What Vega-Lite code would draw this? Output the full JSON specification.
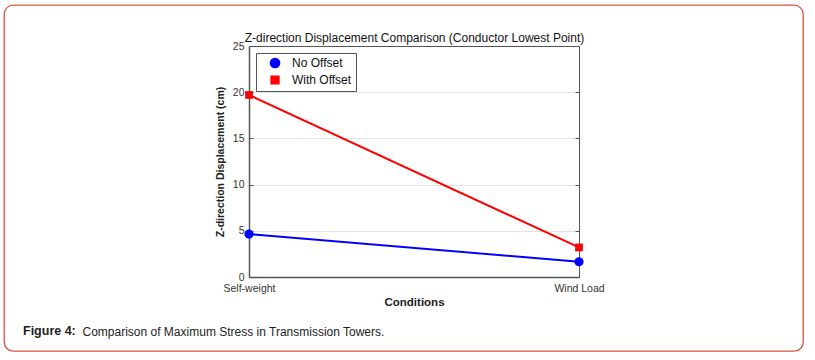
{
  "$schema": "https://vega.github.io/schema/vega-lite/v6.json",
  "width": 799,
  "height": 346,
  "autosize": {"type": "none"},
  "padding": {"left": 4, "top": 5, "right": 12, "bottom": 9},
  "background": "white",
  "title": {
    "text": "Figure 4:",
    "orient": "bottom",
    "anchor": "start",
    "frame": "group",
    "offset": -26,
    "dx": 19,
    "baseline": "top",
    "fontSize": 12.5,
    "fontWeight": "bold",
    "color": "#222222",
    "font": "Liberation Sans"
  },
  "config": {
    "view": {"stroke": "#e0503f", "strokeWidth": 1.3, "cornerRadius": 9, "fill": "white"},
    "font": "Liberation Sans",
    "axis": {"labelFont": "Liberation Sans", "titleFont": "Liberation Sans", "grid": false, "zindex": 0},
    "legend": {
      "orient": "none",
      "legendX": 252,
      "legendY": 48,
      "padding": 4,
      "strokeColor": "#555555",
      "fillColor": "white",
      "labelFont": "Liberation Sans",
      "labelFontSize": 12,
      "labelColor": "#111111",
      "labelOffset": 11,
      "symbolOffset": 9,
      "rowPadding": 2,
      "symbolSize": 75
    }
  },
  "data": {
    "values": [
      {"condition": "Self-weight", "series": "No Offset", "value": 4.65},
      {"condition": "Wind Load", "series": "No Offset", "value": 1.65},
      {"condition": "Self-weight", "series": "With Offset", "value": 19.7},
      {"condition": "Wind Load", "series": "With Offset", "value": 3.2}
    ]
  },
  "layer": [
    {
      "mark": {"type": "line", "strokeWidth": 2},
      "encoding": {
        "x": {
          "field": "condition", "type": "nominal",
          "scale": {"type": "point", "domain": ["Self-weight", "Wind Load"], "range": [245, 575], "padding": 0},
          "axis": {
            "orient": "bottom", "offset": -74, "title": "Conditions",
            "labelAngle": 0, "ticks": false, "domainColor": "#555555", "domainWidth": 1.5,
            "labelFontSize": 10.5, "labelColor": "#333333", "labelPadding": 6,
            "titleFontSize": 11.5, "titleFontWeight": "bold", "titleColor": "#222222", "titlePadding": 3
          }
        },
        "y": {
          "field": "value", "type": "quantitative",
          "scale": {"domain": [0, 25], "range": [272, 41], "nice": false, "zero": false},
          "axis": {
            "orient": "left", "offset": -245, "title": "Z-direction Displacement (cm)",
            "values": [0, 5, 10, 15, 20, 25], "grid": true, "gridColor": "#e4e4e4", "gridWidth": 1,
            "domainColor": "#555555", "domainWidth": 1.5,
            "tickSize": -4, "tickColor": "#555555", "labelPadding": 9,
            "labelFontSize": 10.5, "labelColor": "#333333",
            "titleFontSize": 10.5, "titleFontWeight": "bold", "titleColor": "#222222", "titlePadding": 7
          }
        },
        "color": {
          "field": "series", "type": "nominal",
          "scale": {"domain": ["No Offset", "With Offset"], "range": ["#0000ff", "#ff0000"]},
          "legend": {"title": null}
        }
      }
    },
    {
      "mark": {"type": "point", "filled": true, "opacity": 1},
      "encoding": {
        "x": {
          "field": "condition", "type": "nominal",
          "scale": {"type": "point", "domain": ["Self-weight", "Wind Load"], "range": [245, 575], "padding": 0},
          "axis": {
            "orient": "top", "offset": -41,
            "title": "Z-direction Displacement Comparison (Conductor Lowest Point)",
            "labels": false, "ticks": false, "domainColor": "#555555", "domainWidth": 1,
            "titleFontSize": 12, "titleFontWeight": "normal", "titleColor": "#111111", "titlePadding": 2
          }
        },
        "y": {
          "field": "value", "type": "quantitative",
          "scale": {"domain": [0, 25], "range": [272, 41], "nice": false, "zero": false},
          "axis": {
            "orient": "right", "offset": -224,
            "title": "Comparison of Maximum Stress in Transmission Towers.",
            "values": [0, 5, 10, 15, 20, 25],
            "labels": false, "tickSize": -4, "tickColor": "#555555",
            "domainColor": "#555555", "domainWidth": 1,
            "titleAngle": 0, "titleX": -497, "titleY": 326, "titleAlign": "left", "titleBaseline": "middle",
            "titleFontSize": 12, "titleFontWeight": "normal", "titleColor": "#222222"
          }
        },
        "color": {
          "field": "series", "type": "nominal",
          "scale": {"domain": ["No Offset", "With Offset"], "range": ["#0000ff", "#ff0000"]},
          "legend": {"title": null}
        },
        "shape": {
          "field": "series", "type": "nominal",
          "scale": {"domain": ["No Offset", "With Offset"], "range": ["circle", "square"]},
          "legend": {"title": null}
        },
        "size": {
          "field": "series", "type": "nominal",
          "scale": {"domain": ["No Offset", "With Offset"], "range": [85, 60]},
          "legend": null
        }
      }
    }
  ],
  "resolve": {
    "scale": {"x": "shared", "y": "shared"},
    "axis": {"x": "independent", "y": "independent"}
  }
}
